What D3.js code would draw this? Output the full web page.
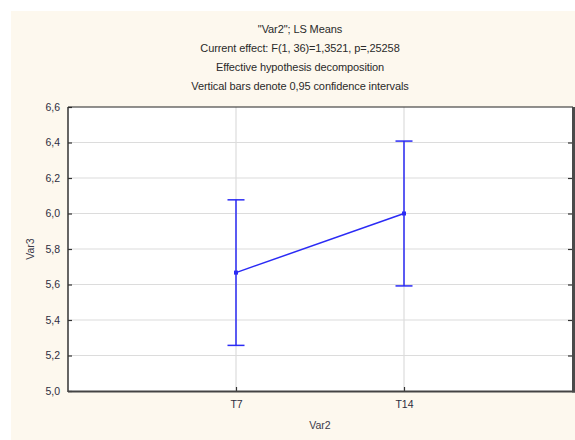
<!DOCTYPE html>
<html>
<head>
<meta charset="utf-8">
<script src="https://cdn.jsdelivr.net/npm/d3@7"></script>
<style>
  html, body { margin: 0; padding: 0; background: #ffffff; }
  svg { display: block; }
  text { font-family: "Liberation Sans", Arial, sans-serif; }
</style>
</head>
<body>
<svg id="chart" width="575" height="440"></svg>
<script>
// LS means of Var3 for each level of Var2, with 0.95 confidence limits
const categories = ["T7", "T14"];
const means = [5.667, 6.0];
const lower = [5.257, 5.592];
const upper = [6.077, 6.408];
const yTicks = [5.0, 5.2, 5.4, 5.6, 5.8, 6.0, 6.2, 6.4, 6.6];
const titleLines = [
  "\"Var2\"; LS Means",
  "Current effect: F(1, 36)=1,3521, p=,25258",
  "Effective hypothesis decomposition",
  "Vertical bars denote 0,95 confidence intervals"
];
const xTitle = "Var2";
const yTitle = "Var3";

const W = 575, H = 440;
const plot = { left: 68, top: 107, right: 572, bottom: 391 };
const svg = d3.select("#chart");

// page background
svg.append("rect").attr("x", 11).attr("y", 11).attr("width", W - 11).attr("height", H - 11)
  .attr("fill", "#fdf8ee");

const x = d3.scalePoint().domain(categories).range([plot.left, plot.right]).padding(1);
const y = d3.scaleLinear().domain([5.0, 6.6]).range([plot.bottom, plot.top]);
const fmt = v => d3.format(".1f")(v).replace(".", ",");

// plot area
svg.append("rect").attr("x", plot.left).attr("y", plot.top)
  .attr("width", plot.right - plot.left).attr("height", plot.bottom - plot.top)
  .attr("fill", "#ffffff");

// grid
const grid = svg.append("g").attr("stroke", "#dcdcdc").attr("stroke-width", 1.2);
grid.selectAll("line.h").data(yTicks.slice(1, -1)).join("line")
  .attr("x1", plot.left).attr("x2", plot.right)
  .attr("y1", d => y(d)).attr("y2", d => y(d));
grid.selectAll("line.v").data(categories).join("line")
  .attr("y1", plot.top).attr("y2", plot.bottom)
  .attr("x1", d => x(d)).attr("x2", d => x(d));

// axes (ticks pointing inward)
const yLeft = svg.append("g").attr("transform", `translate(${plot.left},0)`)
  .call(d3.axisLeft(y).tickValues(yTicks).tickFormat(fmt).tickSize(-4).tickPadding(8));
const yRight = svg.append("g").attr("transform", `translate(${plot.right},0)`)
  .call(d3.axisRight(y).tickValues(yTicks.slice(1, -1)).tickFormat("").tickSize(-4));
const xBottom = svg.append("g").attr("transform", `translate(0,${plot.bottom})`)
  .call(d3.axisBottom(x).tickSize(-4).tickPadding(10));
[yLeft, yRight, xBottom].forEach(g => {
  g.select(".domain").remove();
  g.selectAll(".tick line").attr("stroke", "#333").attr("stroke-width", 1.2);
  g.selectAll(".tick text").attr("fill", "#2e2e3e").attr("font-size", 10.5)
    .attr("font-family", "'Liberation Sans', Arial, sans-serif");
});

// frame
const frame = svg.append("g").attr("fill", "none");
frame.append("line").attr("x1", plot.left).attr("x2", plot.right + 1)
  .attr("y1", plot.top).attr("y2", plot.top).attr("stroke", "#222").attr("stroke-width", 1.2);
frame.append("line").attr("x1", plot.left).attr("x2", plot.left)
  .attr("y1", plot.top).attr("y2", plot.bottom + 1).attr("stroke", "#333").attr("stroke-width", 1.5);
frame.append("line").attr("x1", plot.left).attr("x2", plot.right + 3)
  .attr("y1", plot.bottom + 0.5).attr("y2", plot.bottom + 0.5).attr("stroke", "#444").attr("stroke-width", 2);
frame.append("line").attr("x1", plot.right + 1.5).attr("x2", plot.right + 1.5)
  .attr("y1", plot.top).attr("y2", plot.bottom + 1.5).attr("stroke", "#4a4a4a").attr("stroke-width", 3);

// confidence bars
const blue = "#2b2bf5";
const bars = svg.append("g").attr("stroke", blue).attr("stroke-width", 1.5);
categories.forEach((c, i) => {
  const cx = x(c);
  bars.append("line").attr("x1", cx).attr("x2", cx).attr("y1", y(lower[i])).attr("y2", y(upper[i]));
  bars.append("line").attr("x1", cx - 8.5).attr("x2", cx + 8.5).attr("y1", y(lower[i])).attr("y2", y(lower[i]));
  bars.append("line").attr("x1", cx - 8.5).attr("x2", cx + 8.5).attr("y1", y(upper[i])).attr("y2", y(upper[i]));
});

// mean line and markers
const pts = categories.map((c, i) => [x(c), y(means[i])]);
svg.append("path").attr("d", d3.line()(pts)).attr("fill", "none")
  .attr("stroke", blue).attr("stroke-width", 1.5);
svg.selectAll("rect.pt").data(pts).join("rect")
  .attr("x", d => d[0] - 2).attr("y", d => d[1] - 2).attr("width", 4).attr("height", 4)
  .attr("fill", blue);

// titles
svg.append("g").selectAll("text").data(titleLines).join("text")
  .attr("x", 300).attr("y", (d, i) => 33 + i * 19)
  .attr("text-anchor", "middle").attr("font-size", 11).attr("letter-spacing", -0.1)
  .attr("fill", "#2a2a2a").text(d => d);

svg.append("text").attr("x", (plot.left + plot.right) / 2).attr("y", 429)
  .attr("text-anchor", "middle").attr("font-size", 10.5).attr("fill", "#3a3a4a").text(xTitle);
svg.append("text").attr("transform", `translate(34,${(plot.top + plot.bottom) / 2}) rotate(-90)`)
  .attr("text-anchor", "middle").attr("font-size", 10.5).attr("fill", "#3a3a4a").text(yTitle);
</script>
</body>
</html>
